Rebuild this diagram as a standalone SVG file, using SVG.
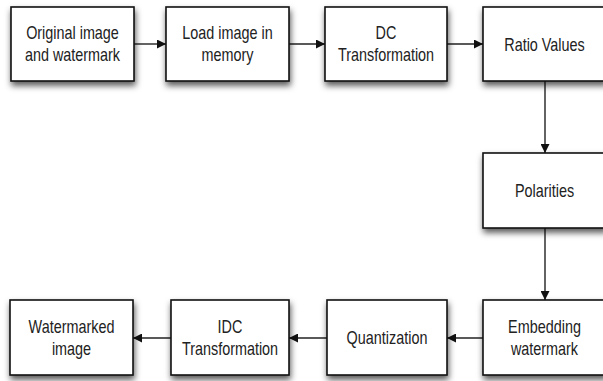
<svg xmlns="http://www.w3.org/2000/svg" width="603" height="381" viewBox="0 0 603 381">
  <defs>
    <filter id="shadow" x="-20%" y="-20%" width="140%" height="150%">
      <feDropShadow dx="1" dy="4" stdDeviation="3.2" flood-color="#000" flood-opacity="0.65"/>
    </filter>
    <marker id="arrow" viewBox="0 0 10 10" refX="10" refY="5" markerWidth="9" markerHeight="9" markerUnits="userSpaceOnUse" orient="auto">
      <path d="M0,0 L10,5 L0,10 Z" fill="#111"/>
    </marker>
    <style>
      .box { fill: #fff; stroke: #111; stroke-width: 1.6; filter: url(#shadow); }
      .lbl { font-family: "Liberation Sans", Arial, Helvetica, sans-serif; font-size: 18px; fill: #222; text-anchor: middle; }
      .link { stroke: #222; stroke-width: 1.4; fill: none; marker-end: url(#arrow); }
    </style>
  </defs>
  <rect width="603" height="381" fill="#fff"/>

  <g id="connectors">
    <line class="link" x1="134" y1="44" x2="166" y2="44"/>
    <line class="link" x1="289" y1="44" x2="325" y2="44"/>
    <line class="link" x1="447" y1="44" x2="483" y2="44"/>
    <line class="link" x1="545" y1="81" x2="545" y2="153"/>
    <line class="link" x1="545" y1="228" x2="545" y2="300"/>
    <line class="link" x1="483" y1="338" x2="447" y2="338"/>
    <line class="link" x1="327" y1="338" x2="289" y2="338"/>
    <line class="link" x1="171" y1="338" x2="133" y2="338"/>
  </g>

  <g id="original">
    <rect class="box" x="11" y="7" width="123" height="74"/>
    <text class="lbl" transform="translate(72.5,39) scale(0.8,1)">Original image</text>
    <text class="lbl" transform="translate(72.5,61) scale(0.8,1)">and watermark</text>
  </g>
  <g id="load">
    <rect class="box" x="166" y="7" width="123" height="74"/>
    <text class="lbl" transform="translate(227.5,39) scale(0.8,1)">Load image in</text>
    <text class="lbl" transform="translate(227.5,61) scale(0.8,1)">memory</text>
  </g>
  <g id="dc">
    <rect class="box" x="325" y="7" width="122" height="74"/>
    <text class="lbl" transform="translate(386,39) scale(0.8,1)">DC</text>
    <text class="lbl" transform="translate(386,61) scale(0.8,1)">Transformation</text>
  </g>
  <g id="ratio">
    <rect class="box" x="483" y="7" width="123" height="74"/>
    <text class="lbl" transform="translate(544.5,51) scale(0.8,1)">Ratio Values</text>
  </g>
  <g id="polarities">
    <rect class="box" x="483" y="153" width="123" height="75"/>
    <text class="lbl" transform="translate(544.5,197) scale(0.8,1)">Polarities</text>
  </g>
  <g id="embedding">
    <rect class="box" x="483" y="300" width="123" height="75"/>
    <text class="lbl" transform="translate(544.5,333) scale(0.8,1)">Embedding</text>
    <text class="lbl" transform="translate(544.5,355) scale(0.8,1)">watermark</text>
  </g>
  <g id="quantization">
    <rect class="box" x="327" y="300" width="120" height="75"/>
    <text class="lbl" transform="translate(387,344) scale(0.8,1)">Quantization</text>
  </g>
  <g id="idc">
    <rect class="box" x="171" y="300" width="118" height="75"/>
    <text class="lbl" transform="translate(230,333) scale(0.8,1)">IDC</text>
    <text class="lbl" transform="translate(230,355) scale(0.8,1)">Transformation</text>
  </g>
  <g id="watermarked">
    <rect class="box" x="10" y="300" width="123" height="75"/>
    <text class="lbl" transform="translate(71.5,333) scale(0.8,1)">Watermarked</text>
    <text class="lbl" transform="translate(71.5,355) scale(0.8,1)">image</text>
  </g>
</svg>
